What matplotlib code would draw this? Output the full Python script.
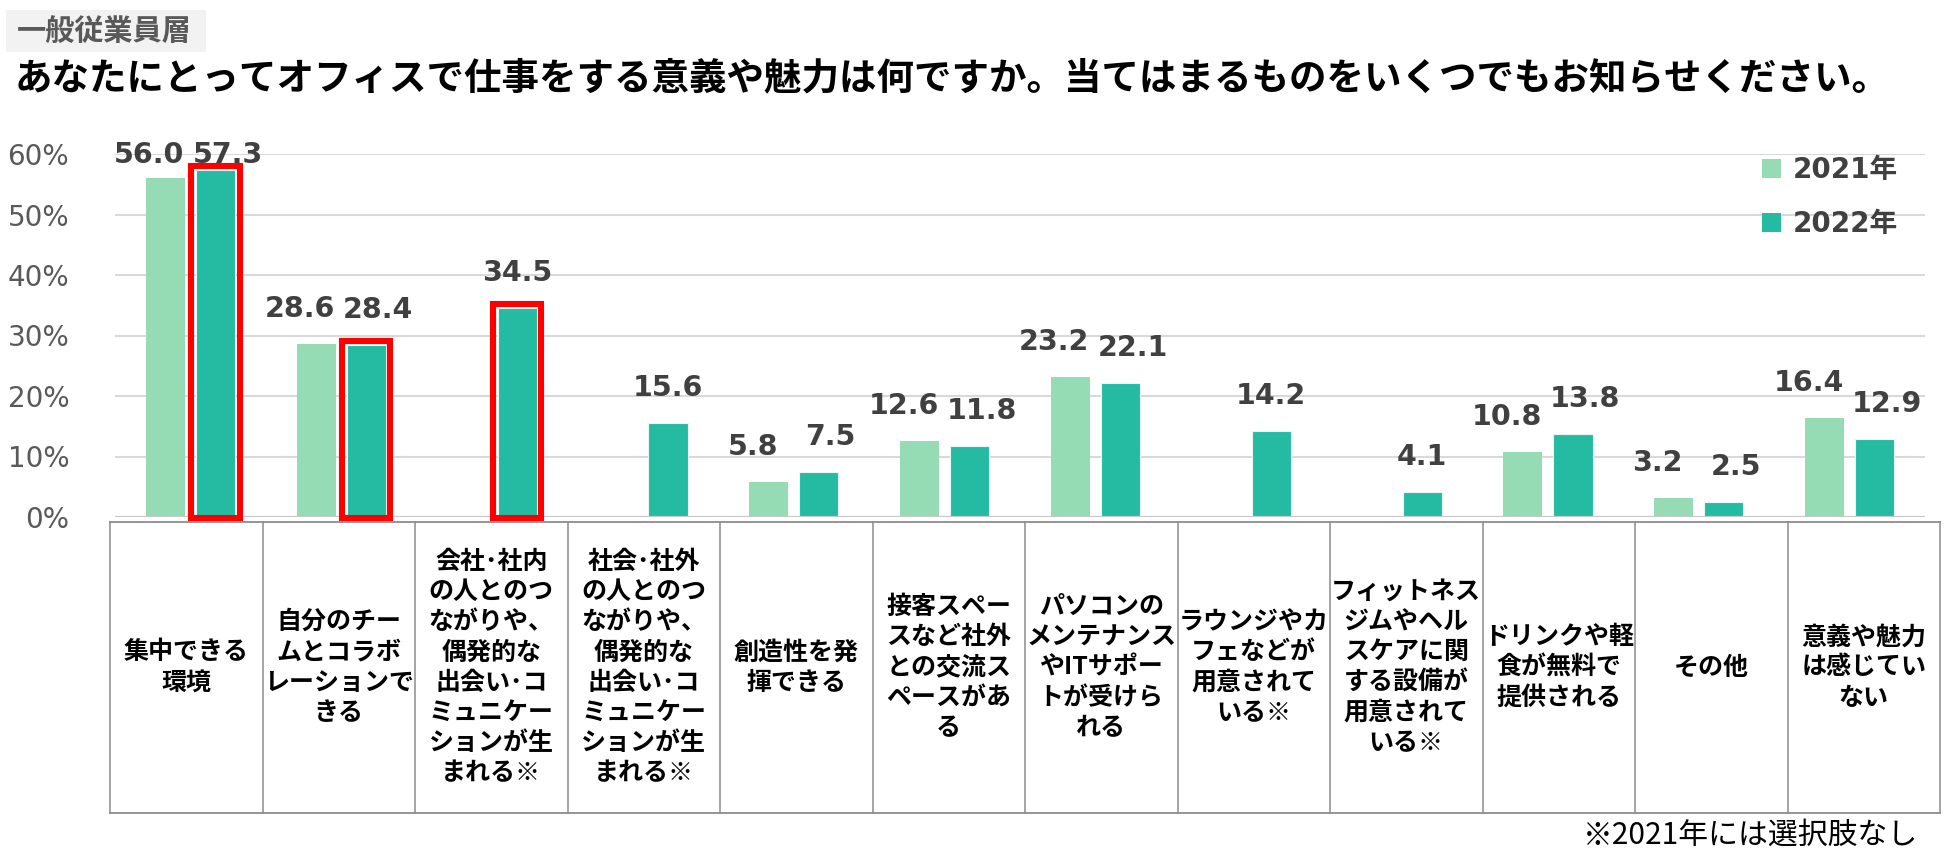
import matplotlib
matplotlib.use('Agg')
import matplotlib.pyplot as plt
from matplotlib.patches import Rectangle, Patch
from matplotlib.lines import Line2D

plt.rcParams['font.family'] = ['Noto Sans CJK JP', 'DejaVu Sans']

categories = [
    '集中できる\n環境',
    '自分のチー\nムとコラボ\nレーションで\nきる',
    '会社･社内\nの人とのつ\nながりや、\n偶発的な\n出会い･コ\nミュニケー\nションが生\nまれる※',
    '社会･社外\nの人とのつ\nながりや、\n偶発的な\n出会い･コ\nミュニケー\nションが生\nまれる※',
    '創造性を発\n揮できる',
    '接客スペー\nスなど社外\nとの交流ス\nペースがあ\nる',
    'パソコンの\nメンテナンス\nやITサポー\nトが受けら\nれる',
    'ラウンジやカ\nフェなどが\n用意されて\nいる※',
    'フィットネス\nジムやヘル\nスケアに関\nする設備が\n用意されて\nいる※',
    'ドリンクや軽\n食が無料で\n提供される',
    'その他',
    '意義や魅力\nは感じてい\nない',
]
# None = not asked in 2021
values_2021 = [56.0, 28.6, None, None, 5.8, 12.6, 23.2, None, None, 10.8, 3.2, 16.4]
values_2022 = [57.3, 28.4, 34.5, 15.6, 7.5, 11.8, 22.1, 14.2, 4.1, 13.8, 2.5, 12.9]
highlighted = [0, 1, 2]  # 2022 bars with a red frame
yticks = [0, 10, 20, 30, 40, 50, 60]
series_names = ['2021年', '2022年']

title = 'あなたにとってオフィスで仕事をする意義や魅力は何ですか。当てはまるものをいくつでもお知らせください。'
subtitle = '一般従業員層'
footnote = '※2021年には選択肢なし'

c_2021 = '#95dcb5'
c_2022 = '#24bba2'
c_label = '#404040'
W, H = 1950, 861

fig = plt.figure(figsize=(W / 100, H / 100), dpi=100)
ax = fig.add_axes([115 / W, 1 - 517 / H, 1810 / W, 363 / H])

n = len(categories)
off = 0.166
bw = 0.26
for i in range(n):
    v1 = values_2021[i]
    v2 = values_2022[i]
    if v1 is not None:
        ax.bar(i - off, v1, bw, color=c_2021, zorder=2)
    ax.bar(i + off, v2, bw, color=c_2022, edgecolor='#e8f7f3', linewidth=0.8, zorder=2)

    # data labels
    both = v1 is not None
    for v, x, dx in ((v1, i - off, -16 if both else 0), (v2, i + off, 12 if both else 0)):
        if v is None:
            continue
        ax.annotate('%.1f' % v, xy=(x, min(v, 54.0)), xytext=(dx, 27),
                    textcoords='offset pixels', ha='center', va='baseline',
                    fontsize=20.5, fontweight='bold', color=c_label,
                    family=['DejaVu Sans'], annotation_clip=False, zorder=5)

# red frames around the highlighted 2022 bars
px_x = 1810 / n  # pixels per category
px_y = 363 / 60.0
for i in highlighted:
    pad_x = 4.5 / px_x
    pad_y = 4.5 / px_y
    ax.add_patch(Rectangle((i + off - bw / 2 - pad_x, -0.1),
                           bw + 2 * pad_x, values_2022[i] + 0.1 + pad_y,
                           fill=False, edgecolor='#ff0000', linewidth=4.4,
                           zorder=4, clip_on=False))

ax.set_xlim(-0.5, n - 0.5)
ax.set_ylim(0, 60)
ax.set_yticks(yticks)
ax.set_yticklabels(['%d%%' % t for t in yticks], family=['DejaVu Sans'],
                   fontsize=20, color='#595959')
ax.tick_params(axis='y', length=0, pad=33)
ax.set_xticks([])
for s in ax.spines.values():
    s.set_visible(False)
for t in yticks[1:]:
    ax.axhline(t, color='#d9d9d9', linewidth=1.5, zorder=1)
ax.axhline(0, color='#c8c8c8', linewidth=1.6, zorder=3)

# legend
handles = [Patch(facecolor=c_2021), Patch(facecolor=c_2022)]
leg = fig.legend(handles, series_names, loc='upper left',
                 bbox_to_anchor=(1762 / W, 1 - 156 / H), frameon=False,
                 prop={'family': ['DejaVu Sans', 'Noto Sans CJK JP'], 'weight': 'bold', 'size': 20},
                 handlelength=0.7, handleheight=0.7, handletextpad=0.4,
                 labelspacing=0.95, borderpad=0, borderaxespad=0)
for t in leg.get_texts():
    t.set_color(c_label)

# category table below the chart
t_left, t_right, t_top, t_bot = 110, 1940, 522, 813
col_w = (t_right - t_left) / n
fig.add_artist(Line2D([t_left / W, t_right / W], [1 - t_top / H, 1 - t_top / H],
                      color='#8c8c8c', linewidth=1.3))
fig.add_artist(Line2D([t_left / W, t_right / W], [1 - t_bot / H, 1 - t_bot / H],
                      color='#8c8c8c', linewidth=1.3))
for k in range(n + 1):
    x = (t_left + k * col_w) / W
    fig.add_artist(Line2D([x, x], [1 - t_top / H, 1 - t_bot / H],
                          color='#8c8c8c', linewidth=1.1))
for i, cat in enumerate(categories):
    fig.text((t_left + (i + 0.5) * col_w) / W, 1 - (t_top + t_bot) / 2 / H, cat,
             ha='center', va='center', multialignment='center',
             fontsize=18, fontweight='bold', color='black', linespacing=1.33)

# header
fig.add_artist(Rectangle((6 / W, 1 - 52 / H), 200 / W, 42 / H,
                         facecolor='#f2f2f2', edgecolor='none', transform=fig.transFigure))
fig.text(17 / W, 1 - 31 / H, subtitle, ha='left', va='center',
         fontsize=21, fontweight='bold', color='#595959')
fig.text(15 / W, 1 - 78 / H, title, ha='left', va='center',
         fontsize=27, fontweight='bold', color='black')
fig.text(1918 / W, 1 - 835 / H, footnote, ha='right', va='center',
         fontsize=21.5, color='black')

fig.savefig('out.png', dpi=100)
